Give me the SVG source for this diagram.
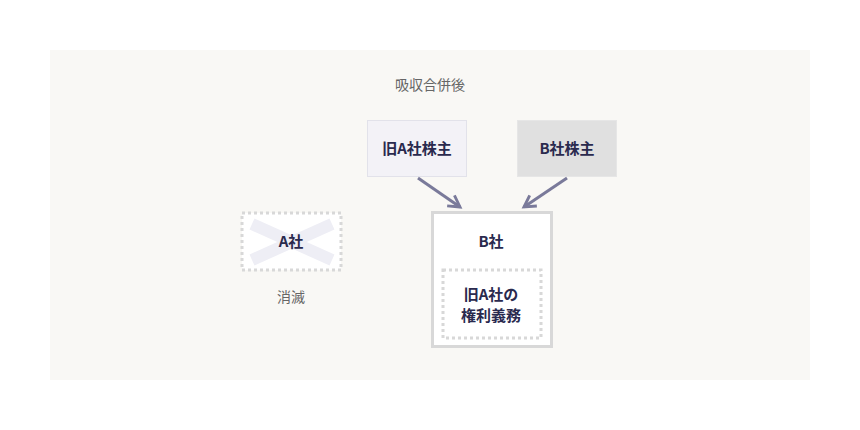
<svg xmlns="http://www.w3.org/2000/svg" width="860" height="430" viewBox="0 0 860 430">
<style>
text{font-family:"Noto Sans CJK JP","Noto Sans",sans-serif;font-size:15px;font-weight:bold;fill:#2a2a4e;text-anchor:middle}
.g{fill:#666;font-weight:normal;font-size:14px}
.arr{stroke:#7a7a9a;stroke-width:3;fill:none}
</style>
<defs><marker id="ah" viewBox="0 0 10 10" refX="8" refY="5" markerWidth="16" markerHeight="16" orient="auto" markerUnits="userSpaceOnUse"><path d="M1,1 L8,5 L1,9" fill="none" stroke="#7a7a9a" stroke-width="1.8"/></marker></defs>
<rect width="860" height="430" fill="#fff"/>
<rect x="50" y="50" width="760" height="330" fill="#f9f8f5"/>
<text class="g" x="430" y="90">吸収合併後</text>
<g id="oldA"><rect x="367.5" y="120.5" width="99" height="56" fill="#f3f2f7" stroke="#e2e2ea"/><text x="417" y="154">旧A社株主</text></g>
<g id="bHolders"><rect x="517.5" y="120.5" width="99" height="56" fill="#e0e0e0" stroke="#e6e6e6"/><text x="567" y="154">B社株主</text></g>
<g id="aCo"><rect x="242" y="213" width="99" height="57" fill="#fff" stroke="#d8d8d8" stroke-width="3" stroke-dasharray="3,3"/>
<path d="M252,224 L332,260 M252,260 L332,224" stroke="#eeeef5" stroke-width="12"/>
<text x="291" y="247">A社</text><text class="g" x="291" y="302">消滅</text></g>
<g id="bCo"><rect x="432.5" y="212.5" width="119" height="134" fill="#fff" stroke="#d8d8d8" stroke-width="3"/><text x="491" y="247">B社</text>
<rect x="443" y="270" width="98" height="68" fill="#fff" stroke="#d8d8d8" stroke-width="3" stroke-dasharray="3,3"/>
<text x="491" y="300">旧A社の</text><text x="491" y="321">権利義務</text></g>
<g id="connectors"><path class="arr" d="M418,178 L460,207" marker-end="url(#ah)"/><path class="arr" d="M567,178 L524,207" marker-end="url(#ah)"/></g>
</svg>
